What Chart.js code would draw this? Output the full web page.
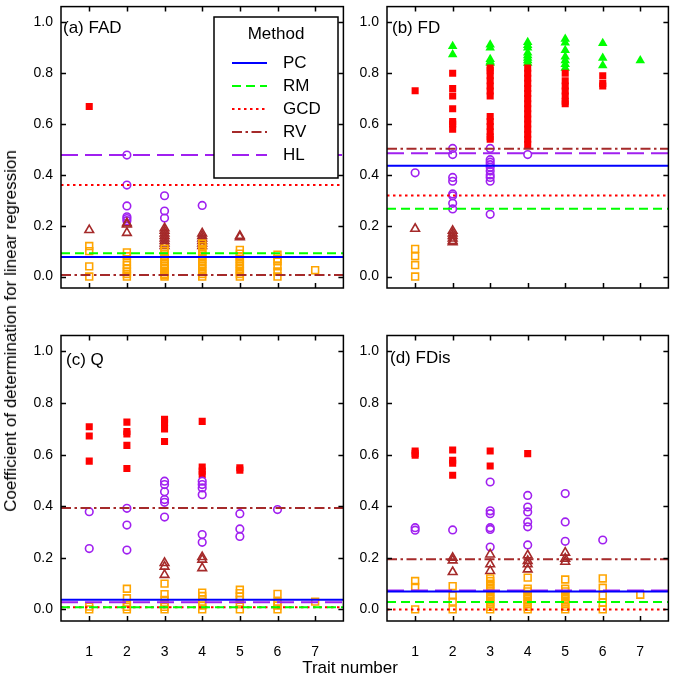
<!DOCTYPE html>
<html>
<head>
<meta charset="utf-8">
<script src="https://cdn.jsdelivr.net/npm/chart.js@4.4.0/dist/chart.umd.min.js"></script>
<style>
  body { margin: 0; background: #fff; }
  #wrap { position: relative; width: 675px; height: 680px; background: #fff; font-family: "Liberation Sans", Arial, sans-serif; }
  canvas { position: absolute; }
  .ytitle { position: absolute; left: 11px; top: 331px; transform: translate(-50%, -50%) rotate(-90deg); white-space: nowrap; font-size: 17px; color: #000; }
  .xtitle { position: absolute; left: 350px; top: 668px; transform: translate(-50%, -50%); white-space: nowrap; font-size: 17px; color: #000; }
</style>
</head>
<body>
<div id="wrap">
  <canvas id="pa" width="350" height="300" style="left:0;top:0"></canvas>
  <canvas id="pb" width="325" height="300" style="left:350px;top:0"></canvas>
  <canvas id="pc" width="350" height="360" style="left:0;top:320px"></canvas>
  <canvas id="pd" width="325" height="360" style="left:350px;top:320px"></canvas>
  <div class="ytitle">Coefficient of determination for linear regression</div>
  <div class="xtitle">Trait number</div>
</div>
<script>
const traits = [1, 2, 3, 4, 5, 6, 7];
const yTicks = [0, 0.2, 0.4, 0.6, 0.8, 1.0];
const methods = ['PC', 'RM', 'GCD', 'RV', 'HL'];
const methodColors = ['#0000ff', '#00ff00', '#ff0000', '#a52a2a', '#a020f0'];
const methodDash = [[], [9, 5], [2.5, 3.5], [10, 3.5, 2.5, 3.5], [17, 7]];

// horizontal lines, order = methods
const fadLines = [0.077, 0.092, 0.36, 0.006, 0.478];
const fdLines = [0.436, 0.267, 0.319, 0.503, 0.485];
const qLines = [0.037, 0.008, 0.008, 0.393, 0.028];
const fdisLines = [0.069, 0.029, 0.0, 0.194, 0.073];

// points, one list per trait number 1..7
const fadOrange = [[0.12, 0.10, 0.04, 0.0], [0.095, 0.08, 0.06, 0.045, 0.03, 0.02, 0.01, 0.0],
  [0.11, 0.10, 0.09, 0.08, 0.07, 0.06, 0.05, 0.04, 0.03, 0.02, 0.01, 0.005, 0.0],
  [0.13, 0.12, 0.11, 0.10, 0.09, 0.08, 0.07, 0.06, 0.05, 0.04, 0.03, 0.02, 0.01, 0.0],
  [0.105, 0.09, 0.08, 0.07, 0.06, 0.05, 0.04, 0.03, 0.02, 0.01, 0.0], [0.086, 0.07, 0.06, 0.04, 0.02, 0.0], [0.025]];
const fadGreen = [[], [], [], [], [], [], []];
const fadRed = [[0.669], [], [], [], [], [], []];
const fadBrown = [[0.183], [0.21, 0.205, 0.172], [0.19, 0.18, 0.17, 0.16, 0.15, 0.14, 0.13, 0.12],
  [0.17, 0.16, 0.15, 0.14, 0.13, 0.12], [0.16, 0.155], [], []];
const fadPurple = [[], [0.478, 0.36, 0.278, 0.235, 0.228, 0.22], [0.318, 0.258, 0.23], [0.28], [], [], []];

const fdOrange = [[0.109, 0.08, 0.045, 0.0], [], [], [], [], [], []];
const fdGreen = [[], [0.906, 0.874], [0.912, 0.90, 0.855, 0.845, 0.84], [0.922, 0.91, 0.90, 0.88, 0.87, 0.86, 0.85, 0.84],
  [0.935, 0.92, 0.89, 0.865, 0.85, 0.835, 0.82], [0.918, 0.86, 0.83], [0.85]];
const fdRed = [[0.731], [0.80, 0.74, 0.71, 0.66, 0.61, 0.60, 0.58],
  [0.82, 0.81, 0.79, 0.77, 0.75, 0.73, 0.71, 0.63, 0.61, 0.59, 0.57, 0.55, 0.54],
  [0.82, 0.80, 0.78, 0.76, 0.74, 0.72, 0.70, 0.68, 0.66, 0.64, 0.62, 0.60, 0.58, 0.56, 0.54, 0.52],
  [0.80, 0.77, 0.75, 0.73, 0.71, 0.69, 0.68], [0.79, 0.76, 0.75], []];
const fdBrown = [[0.188], [0.18, 0.17, 0.16, 0.15, 0.14, 0.135], [], [], [], [], []];
const fdPurple = [[0.408], [0.504, 0.48, 0.39, 0.375, 0.325, 0.318, 0.288, 0.266],
  [0.504, 0.46, 0.45, 0.44, 0.43, 0.415, 0.40, 0.39, 0.375, 0.245], [0.48], [], [], []];

const qOrange = [[0.011, 0.0], [0.08, 0.043, 0.024, 0.01, 0.0], [0.10, 0.059, 0.037, 0.02, 0.01, 0.0],
  [0.065, 0.052, 0.04, 0.03, 0.015, 0.0], [0.076, 0.063, 0.05, 0.037, 0.02, 0.0], [0.06, 0.03, 0.015, 0.0], [0.03]];
const qGreen = [[], [], [], [], [], [], []];
const qRed = [[0.708, 0.672, 0.575], [0.726, 0.69, 0.68, 0.636, 0.546], [0.737, 0.724, 0.70, 0.651],
  [0.729, 0.552, 0.536, 0.523], [0.549, 0.54], [], []];
const qBrown = [[], [], [0.18, 0.166, 0.134], [0.203, 0.193, 0.16], [], [], []];
const qPurple = [[0.379, 0.236], [0.392, 0.327, 0.23], [0.497, 0.484, 0.456, 0.426, 0.415, 0.358],
  [0.497, 0.484, 0.471, 0.445, 0.29, 0.26], [0.371, 0.312, 0.283], [0.387], []];

const fdisOrange = [[0.11, 0.087, 0.0], [0.09, 0.054, 0.03, 0.0],
  [0.12, 0.11, 0.10, 0.09, 0.08, 0.07, 0.06, 0.05, 0.04, 0.03, 0.02, 0.01, 0.0],
  [0.123, 0.08, 0.07, 0.06, 0.05, 0.04, 0.03, 0.02, 0.01, 0.0],
  [0.116, 0.08, 0.07, 0.06, 0.05, 0.04, 0.03, 0.02, 0.01, 0.0], [0.12, 0.084, 0.054, 0.026, 0.0], [0.057]];
const fdisGreen = [[], [], [], [], [], [], []];
const fdisRed = [[0.614, 0.605, 0.598], [0.618, 0.578, 0.567, 0.52], [0.614, 0.556], [0.604], [], [], []];
const fdisBrown = [[], [0.2, 0.19, 0.145], [0.213, 0.175, 0.149], [0.21, 0.188, 0.175, 0.155], [0.22, 0.197, 0.185], [], []];
const fdisPurple = [[0.317, 0.307], [0.308], [0.494, 0.382, 0.371, 0.317, 0.31, 0.242],
  [0.442, 0.397, 0.378, 0.339, 0.32, 0.25], [0.449, 0.339, 0.264], [0.269], []];

const font = '"Liberation Sans", Arial, sans-serif';

function toPoints(cols) {
  let out = [];
  cols.forEach((vals, i) => vals.forEach(v => out.push({ x: traits[i], y: v })));
  return out;
}

function markerSet(cols, style, radius, color, filled) {
  return {
    data: toPoints(cols),
    pointStyle: style,
    pointRadius: radius,
    pointBorderColor: color,
    pointBackgroundColor: filled ? color : 'rgba(0,0,0,0)',
    pointBorderWidth: filled ? 0 : 1.6,
    showLine: false,
    order: 1
  };
}

function lineSets(vals) {
  return vals.map((v, i) => ({
    label: methods[i],
    data: [{ x: 0.25, y: v }, { x: 7.75, y: v }],
    showLine: true,
    borderColor: methodColors[i],
    borderDash: methodDash[i],
    borderWidth: 2,
    pointRadius: 0,
    order: 0
  }));
}

const framePlugin = {
  id: 'frame',
  afterDraw(chart, args, opts) {
    const ctx = chart.ctx;
    const a = chart.chartArea;
    const x = chart.scales.x, y = chart.scales.y;
    ctx.save();
    ctx.strokeStyle = '#000';
    ctx.lineWidth = 1.5;
    ctx.setLineDash([]);
    ctx.strokeRect(a.left, a.top, a.right - a.left, a.bottom - a.top);
    ctx.beginPath();
    traits.forEach(t => {
      const px = Math.round(x.getPixelForValue(t)) + 0.5;
      ctx.moveTo(px, a.bottom); ctx.lineTo(px, a.bottom - 5);
      ctx.moveTo(px, a.top); ctx.lineTo(px, a.top + 5);
    });
    yTicks.forEach(v => {
      const py = Math.round(y.getPixelForValue(v)) + 0.5;
      ctx.moveTo(a.left, py); ctx.lineTo(a.left + 5, py);
      ctx.moveTo(a.right, py); ctx.lineTo(a.right - 5, py);
    });
    ctx.stroke();
    ctx.fillStyle = '#000';
    ctx.font = '17px ' + font;
    ctx.textBaseline = 'alphabetic';
    ctx.textAlign = 'left';
    ctx.fillText(opts.label, a.left + opts.dx, a.top + opts.dy);

    if (opts.legend) {
      // legend box inside panel (a)
      const bx = 214, by = 17, bw = 124, bh = 161;
      ctx.fillStyle = '#fff';
      ctx.fillRect(bx, by, bw, bh);
      ctx.lineWidth = 1.5;
      ctx.strokeRect(bx, by, bw, bh);
      ctx.fillStyle = '#000';
      ctx.textAlign = 'center';
      ctx.textBaseline = 'middle';
      ctx.fillText('Method', bx + 62, by + 17);
      ctx.textAlign = 'left';
      methods.forEach((m, i) => {
        const ry = 63 + i * 23;
        ctx.strokeStyle = methodColors[i];
        ctx.setLineDash(methodDash[i]);
        ctx.lineWidth = 2;
        ctx.beginPath();
        ctx.moveTo(232, ry); ctx.lineTo(267, ry);
        ctx.stroke();
        ctx.fillText(m, 283, ry);
      });
    }
    ctx.restore();
  }
};

function makePanel(id, cfg) {
  const canvas = document.getElementById(id);
  const datasets = lineSets(cfg.lines).concat([
    markerSet(cfg.orange, 'rect', 4.8, '#ffa500', false),
    markerSet(cfg.brown, 'triangle', 5, '#a52a2a', false),
    markerSet(cfg.purple, 'circle', 3.8, '#a020f0', false),
    markerSet(cfg.red, 'rect', 5, '#ff0000', true),
    markerSet(cfg.green, 'triangle', 5.5, '#00ff00', true)
  ]);
  return new Chart(canvas.getContext('2d'), {
    type: 'scatter',
    data: { datasets: datasets },
    options: {
      responsive: false,
      animation: false,
      devicePixelRatio: 1,
      layout: { padding: cfg.pad },
      scales: {
        x: {
          type: 'linear', min: 0.25, max: 7.75,
          afterBuildTicks: s => { s.ticks = traits.map(v => ({ value: v })); },
          afterFit: s => { s.height = cfg.xh; s.paddingLeft = 0; s.paddingRight = 0; },
          grid: { display: false, drawTicks: false, tickLength: 0 },
          border: { display: false },
          ticks: { display: cfg.xlabels, color: '#000', padding: 23, font: { size: 14, family: font }, maxRotation: 0 }
        },
        y: {
          type: 'linear', min: -0.045, max: 1.062,
          afterBuildTicks: s => { s.ticks = yTicks.map(v => ({ value: v })); },
          afterFit: s => { s.width = cfg.yw; s.paddingTop = 0; s.paddingBottom = 0; },
          grid: { display: false, drawTicks: false, tickLength: 0 },
          border: { display: false },
          ticks: { color: '#000', padding: 8, font: { size: 14, family: font }, callback: v => v.toFixed(1) }
        }
      },
      plugins: {
        legend: { display: false },
        tooltip: { enabled: false },
        frame: { label: cfg.label, dx: cfg.dx, dy: cfg.dy, legend: cfg.legend }
      }
    },
    plugins: [framePlugin]
  });
}

makePanel('pa', { label: '(a) FAD', dx: 2, dy: 26, legend: true, lines: fadLines, orange: fadOrange, green: fadGreen, red: fadRed, brown: fadBrown, purple: fadPurple,
  yw: 61, xh: 0, xlabels: false, pad: { left: 0, top: 3, right: 5, bottom: 12 } });
makePanel('pb', { label: '(b) FD', dx: 5, dy: 26, legend: false, lines: fdLines, orange: fdOrange, green: fdGreen, red: fdRed, brown: fdBrown, purple: fdPurple,
  yw: 37, xh: 0, xlabels: false, pad: { left: 0, top: 3, right: 4, bottom: 12 } });
makePanel('pc', { label: '(c) Q', dx: 5, dy: 29, legend: false, lines: qLines, orange: qOrange, green: qGreen, red: qRed, brown: qBrown, purple: qPurple,
  yw: 61, xh: 45, xlabels: true, pad: { left: 0, top: 15.5, right: 5, bottom: 360 - 301 - 45 } });
makePanel('pd', { label: '(d) FDis', dx: 3, dy: 27, legend: false, lines: fdisLines, orange: fdisOrange, green: fdisGreen, red: fdisRed, brown: fdisBrown, purple: fdisPurple,
  yw: 37, xh: 45, xlabels: true, pad: { left: 0, top: 15.5, right: 4, bottom: 360 - 301 - 45 } });
</script>
</body>
</html>
